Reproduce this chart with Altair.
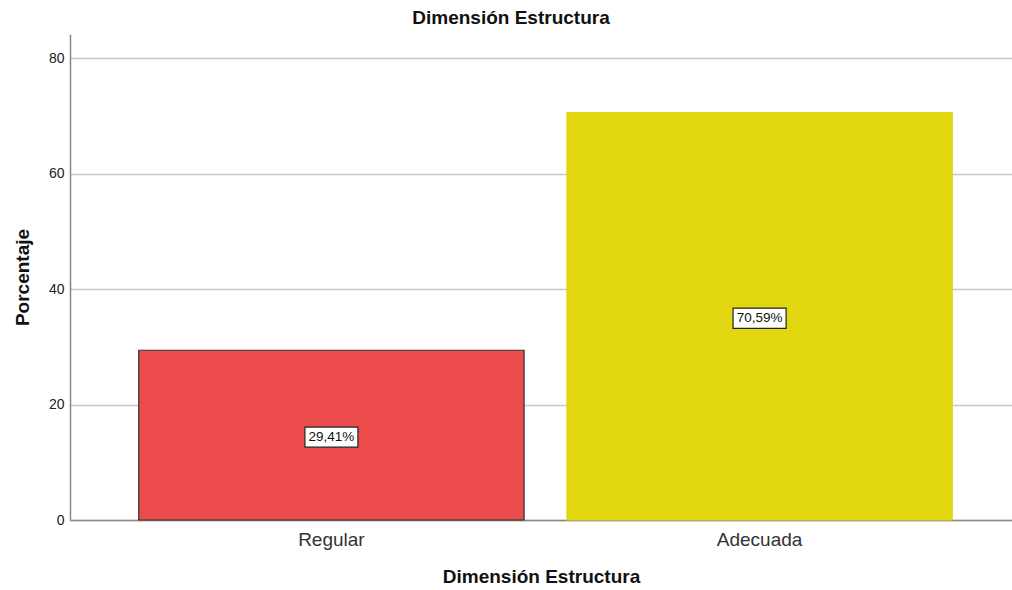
import altair as alt
import pandas as pd

categorias = ["Regular", "Adecuada"]
porcentajes = [29.41, 70.59]
etiquetas = ["29,41%", "70,59%"]
colores = ["#ec4b4c", "#e2d611"]
trazos = ["#333333", "#e2d611"]

df = pd.DataFrame({
    "categoria": categorias,
    "porcentaje": porcentajes,
    "etiqueta": etiquetas,
    "color": colores,
    "trazo": trazos,
})
df["mitad"] = df["porcentaje"] / 2

font = "Liberation Sans"

x = alt.X(
    "categoria:N",
    sort=categorias,
    title="Dimensión Estructura",
    scale=alt.Scale(paddingInner=0.1, paddingOuter=0.15, align=0.535),
    axis=alt.Axis(
        labelAngle=0, labelFontSize=19, labelColor="#333333", labelFont=font,
        labelPadding=10, ticks=False, domainColor="#888888", domainWidth=1.5,
        titleFont=font, titleFontSize=19, titleFontWeight="bold",
        titleColor="#111111", titlePadding=18,
    ),
)

y_scale = alt.Scale(domain=[0, 84.2], nice=False)

bars = alt.Chart(df).mark_bar(strokeWidth=1.2).encode(
    x=x,
    y=alt.Y(
        "porcentaje:Q",
        scale=y_scale,
        title="Porcentaje",
        axis=alt.Axis(
            values=[0, 20, 40, 60, 80], labelFontSize=14, labelFont=font,
            labelColor="#222222", ticks=False, labelPadding=6,
            domainColor="#888888", domainWidth=1.5,
            gridColor="#c8c8c8", gridWidth=1.5,
            titleFont=font, titleFontSize=19, titleFontWeight="bold",
            titleColor="#111111", titlePadding=16,
        ),
    ),
    color=alt.Color("color:N", scale=None),
    stroke=alt.Stroke("trazo:N", scale=None),
)

# value boxes sit at the middle of each bar
cajas = alt.Chart(df).mark_point(
    shape="M-1,-0.38H1V0.38H-1Z", size=2809, filled=True,
    fill="white", stroke="#222222", strokeWidth=1.2, opacity=1, yOffset=2,
).encode(
    x=alt.X("categoria:N", sort=categorias),
    y=alt.Y("mitad:Q", scale=y_scale),
)

textos = alt.Chart(df).mark_text(
    font=font, fontSize=13.5, color="#111111", baseline="middle", yOffset=2,
).encode(
    x=alt.X("categoria:N", sort=categorias),
    y=alt.Y("mitad:Q", scale=y_scale),
    text="etiqueta:N",
)

chart = alt.layer(bars, cajas, textos).properties(
    width=942,
    height=486,
    title=alt.TitleParams(
        "Dimensión Estructura", font=font, fontSize=19, fontWeight="bold",
        color="#111111", offset=6, dx=-30,
    ),
    autosize=alt.AutoSizeParams(type="none"),
    padding={"left": 70, "top": 34, "right": 0, "bottom": 70},
).configure(background="white").configure_view(stroke=None)

chart.save("out.html", embed_options={"renderer": "svg", "actions": False})
